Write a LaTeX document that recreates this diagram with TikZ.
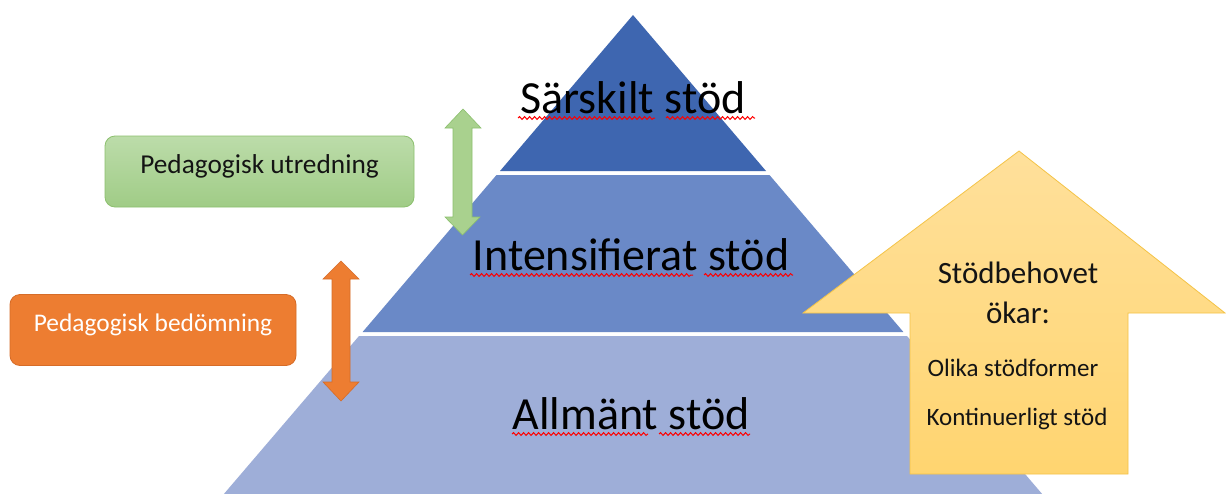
\documentclass[tikz,border=0pt]{standalone}
\usepackage{fontspec}
\setmainfont{Carlito}
\usetikzlibrary{decorations.pathmorphing}
\definecolor{topblue}{RGB}{62,102,176}
\definecolor{midblue}{RGB}{106,137,199}
\definecolor{lowblue}{RGB}{158,174,216}
\definecolor{greentop}{RGB}{188,220,170}
\definecolor{greenbot}{RGB}{160,204,134}
\definecolor{greenline}{RGB}{140,192,110}
\definecolor{greenarrow}{RGB}{169,209,142}
\definecolor{orangefill}{RGB}{237,125,49}
\definecolor{orangeline}{RGB}{214,108,40}
\definecolor{yellowtop}{RGB}{255,224,155}
\definecolor{yellowbot}{RGB}{255,213,112}
\definecolor{yellowline}{RGB}{244,195,70}
\definecolor{textdark}{RGB}{20,20,20}
\begin{document}
\begin{tikzpicture}[x=1pt,y=-1pt,
  layertext/.style={anchor=base,inner sep=0pt,font=\fontsize{46}{50}\selectfont,text=black},
  boxstyle/.style={rounded corners=10pt,minimum width=#1,minimum height=71pt,inner sep=0pt,
    text height=16pt,text depth=13pt},
  spell/.style={draw=red,line width=1pt,decorate,decoration={snake,segment length=5pt,amplitude=1.4pt}},
  arrowtext/.style={anchor=base,inner sep=0pt,text=textdark}]
\useasboundingbox (0,0) rectangle (1226,493);
\clip (0,0) rectangle (1226,493);
\fill[white] (0,0) rectangle (1226,493);

% pyramid layers
\fill[lowblue] (359,336) -- (907,336) -- (1043,495) -- (223,495) -- cycle;
\fill[midblue] (496.5,175) -- (769.5,175) -- (903.4,332) -- (362.6,332) -- cycle;
\fill[topblue] (633,15) -- (766,171) -- (500,171) -- cycle;

% layer texts
\node[layertext] (sar) at (633,113) {Särskilt stöd};
\node[layertext] (int) at (631,270) {Intensifierat stöd};
\node[layertext] (all) at (631,429) {Allmänt stöd};
\draw[spell] (518,118) -- (655,118);
\draw[spell] (666,118) -- (755,118);
\draw[spell] (470,275) -- (693,275);
\draw[spell] (704,275) -- (793,275);
\draw[spell] (512,434) -- (648,434);
\draw[spell] (659,434) -- (750,434);

% boxes
\node[boxstyle=309pt,draw=greenline,top color=greentop,bottom color=greenbot,text=textdark,line width=0.8pt,
  font=\fontsize{27.3}{30}\selectfont]
  (utr) at (259.5,171.5) {Pedagogisk utredning};
\node[boxstyle=286pt,draw=orangeline,fill=orangefill,text=white,line width=0.8pt,
  font=\fontsize{25.4}{30}\selectfont]
  (bed) at (153,330) {Pedagogisk bedömning};

% green double arrow
\draw[fill=greenarrow,draw=greenline,line width=0.6pt]
  (463,109) -- (481,128) -- (472,128) -- (472,217) -- (480,217) -- (462.5,235)
  -- (445,217) -- (453,217) -- (453,128) -- (445,128) -- cycle;
% orange double arrow
\draw[fill=orangefill,draw=orangeline,line width=0.6pt]
  (341,261) -- (359,279) -- (350,279) -- (350,382) -- (359,382) -- (341,401)
  -- (323,382) -- (332,382) -- (332,279) -- (323,279) -- cycle;

% yellow up arrow
\draw[top color=yellowtop,bottom color=yellowbot,draw=yellowline,line width=0.8pt]
  (1019,151) -- (1225,313) -- (1128,313) -- (1128,474) -- (910,474) -- (910,313) -- (803,313) -- cycle;
\node[arrowtext,font=\fontsize{31}{34}\selectfont] (beh) at (1018,283) {Stödbehovet};
\node[arrowtext,font=\fontsize{31}{34}\selectfont] (oka) at (1018,323) {ökar:};
\node[arrowtext,font=\fontsize{25}{28}\selectfont] (oli) at (1013,376) {Olika stödformer};
\node[arrowtext,font=\fontsize{25}{28}\selectfont] (kon) at (1017,425) {Kontinuerligt stöd};
\end{tikzpicture}
\end{document}
